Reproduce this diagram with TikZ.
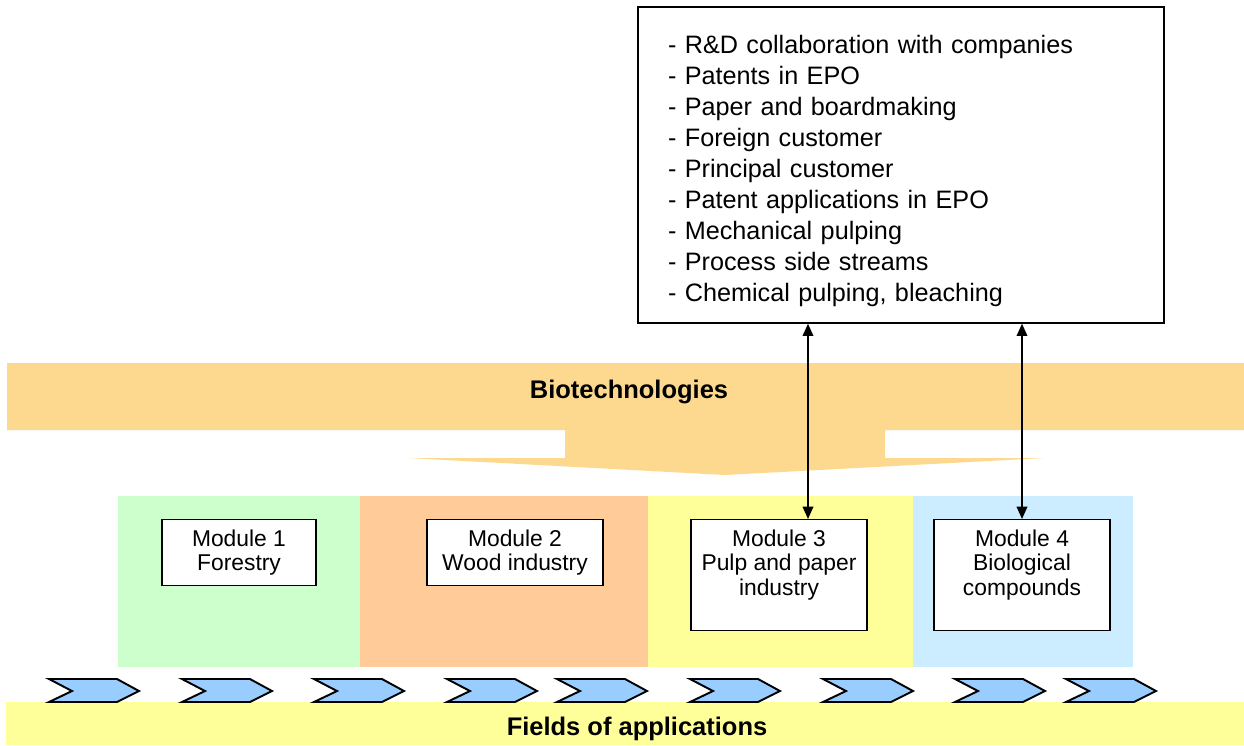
\documentclass[tikz,border=0pt]{standalone}
\usepackage{fontspec}
\setmainfont{Liberation Sans}
\usetikzlibrary{math,arrows.meta}

\definecolor{biotech}{HTML}{FDD990}
\definecolor{forest}{HTML}{CCFFCC}
\definecolor{wood}{HTML}{FFCC99}
\definecolor{pulp}{HTML}{FFFF99}
\definecolor{compound}{HTML}{CCECFF}
\definecolor{chev}{HTML}{99CCFF}

\newcommand{\modlabel}[3]{\parbox[c][#2][t]{#1}{\centering #3}}

\begin{document}
\begin{tikzpicture}[x=0.02cm,y=-0.02cm,
  listbox/.style={draw,line width=0.8pt,align=left,text width=9.32cm,
    inner xsep=0.6cm,minimum height=6.32cm,font=\fontsize{14.35}{17.6}\selectfont},
  module/.style={draw,fill=white,line width=0.8pt,anchor=north,inner xsep=0pt,
    inner ysep=0.2cm,font=\fontsize{13}{14}\selectfont},
  title/.style={font=\bfseries\fontsize{14.5}{17}\selectfont},
  chevron/.style={draw,line width=1.1pt,fill=chev,line join=miter},
  link/.style={{Triangle[length=7pt,width=6pt]}-{Triangle[length=7pt,width=6pt]},line width=1pt}]
  \tikzmath{
    real \bandTop,\bandBot,\colTop,\colBot,\chevTop,\fieldTop;
    \bandTop=363;
    \bandBot=430;
    \colTop=496;
    \colBot=667;
    \chevTop=679;
    \fieldTop=702;
  }
  \useasboundingbox (0,0) rectangle (1244,745);

  \fill[biotech] (7,\bandTop) -- (1244,\bandTop) -- (1244,\bandBot) -- (885,\bandBot)
    -- (885,458) -- (1045,458) -- (725,475) -- (408,458) -- (565,458)
    -- (565,\bandBot) -- (7,\bandBot) -- cycle;
  \node[title] (bio) at (629,392) {Biotechnologies};

  \fill[forest] (118,\colTop) rectangle (360,\colBot);
  \fill[wood] (360,\colTop) rectangle (648,\colBot);
  \fill[pulp] (648,\colTop) rectangle (913,\colBot);
  \fill[compound] (913,\colTop) rectangle (1133,\colBot);

  \fill[pulp] (6,\fieldTop) rectangle (1244,745);
  \node[title] (fields) at (637,729) {Fields of applications};

  \foreach \px in {49,182,314,447,557,690,823,955,1066}
    \draw[chevron] (\px,\chevTop) -- ++(68,0) -- ++(22,12) -- ++(-22,11)
      -- ++(-68,0) -- ++(23,-11) -- cycle;

  \node[listbox] (list) at (901,165) {\rule{0pt}{17.3pt}- R\&D collaboration with companies\\
    - Patents in EPO\\
    - Paper and boardmaking\\
    - Foreign customer\\
    - Principal customer\\
    - Patent applications in EPO\\
    - Mechanical pulping\\
    - Process side streams\\
    - Chemical pulping, bleaching};

  \node[module,minimum width=3.08cm] (m1) at (239,519) {\modlabel{3.0cm}{0.92cm}{Module 1\\Forestry}};
  \node[module,minimum width=3.52cm] (m2) at (515,519) {\modlabel{3.4cm}{0.92cm}{Module 2\\Wood industry}};
  \node[module,minimum width=3.52cm] (m3) at (779,519) {\modlabel{3.4cm}{1.82cm}{Module 3\\Pulp and paper\\industry}};
  \node[module,minimum width=3.52cm] (m4) at (1022,519) {\modlabel{3.4cm}{1.82cm}{Module 4\\Biological\\compounds}};

  \coordinate (a3) at ([xshift=0.58cm]m3.north);
  \draw[link] (a3 |- list.south) -- (a3);
  \draw[link] (m4.north |- list.south) -- (m4.north);
\end{tikzpicture}
\end{document}
